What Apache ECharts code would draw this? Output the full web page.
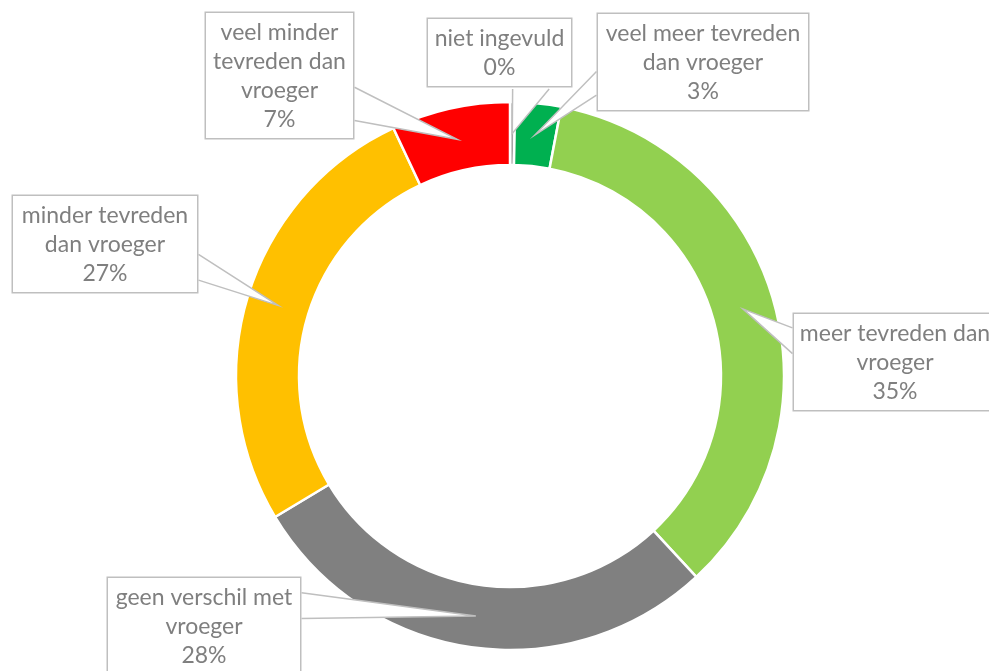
<!DOCTYPE html>
<html>
<head>
<meta charset="utf-8">
<script src="https://cdn.jsdelivr.net/npm/echarts@6/dist/echarts.min.js"></script>
<style>
    html, body { margin: 0; padding: 0; background: #fff; }
    #donut { width: 989px; height: 671px; }
</style>
</head>
<body>
<div id="donut"></div>
<script>
// categories, clockwise from 12 o'clock
var categories = ['niet ingevuld', 'veel meer tevreden dan vroeger', 'meer tevreden dan vroeger',
    'geen verschil met vroeger', 'minder tevreden dan vroeger', 'veel minder tevreden dan vroeger'];
// label text as it wraps in the callout boxes
var labelText = ['niet ingevuld', 'veel meer tevreden\ndan vroeger', 'meer tevreden dan\nvroeger',
    'geen verschil met\nvroeger', 'minder tevreden\ndan vroeger', 'veel minder\ntevreden dan\nvroeger'];
var shares = [0.3, 2.7, 35.1, 28.3, 26.6, 7.0];
var colors = ['#A5A5A5', '#00B050', '#92D050', '#808080', '#FFC000', '#FF0000'];

// callout boxes: centre x, top, width, side of the pointer and where its base sits on that side
var boxes = [
    {x: 499.5, y: 19, w: 143, side: 'bottom', f: [0.59, 0.84]},
    {x: 703, y: 14, w: 210, side: 'left', f: [0.58, 0.82]},
    {x: 895, y: 314, w: 202, side: 'left', f: [0.14, 0.40]},
    {x: 204, y: 578, w: 192, side: 'right', f: [0.15, 0.41]},
    {x: 105, y: 196, w: 184, side: 'right', f: [0.59, 0.85]},
    {x: 279.5, y: 13, w: 147, side: 'right', f: [0.58, 0.84]}
];

var cx = 510, cy = 376, rIn = 211, rOut = 274;

(function () {
    var myChart = echarts.init(document.getElementById('donut'));

    var ring = categories.map(function (c, i) {
        return {name: c, value: shares[i], itemStyle: {color: colors[i]}};
    });
    // same slices again, invisible, on top: they carry the callouts so the pointers lie over the ring
    var callouts = categories.map(function (c, i) {
        return {name: c, value: shares[i], label: {width: boxes[i].w}};
    });

    var option = {
        animation: false,
        series: [
            {
                type: 'pie',
                z: 2,
                center: [cx, cy],
                radius: [rIn, rOut],
                startAngle: 90,
                clockwise: true,
                silent: true,
                itemStyle: {
                    borderColor: '#ffffff',
                    borderWidth: 2.5
                },
                label: {show: false},
                labelLine: {show: false},
                data: ring
            },
            {
                type: 'pie',
                z: 3,
                center: [cx, cy],
                radius: [rIn, rOut],
                startAngle: 90,
                clockwise: true,
                silent: true,
                avoidLabelOverlap: false,
                minShowLabelAngle: 0,
                itemStyle: {
                    color: 'rgba(0,0,0,0)',
                    borderWidth: 0
                },
                label: {
                    show: true,
                    position: 'outside',
                    formatter: function (p) {
                        return labelText[p.dataIndex] + '\n' + Math.round(p.value) + '%';
                    },
                    fontFamily: 'Lato',
                    fontSize: 23,
                    lineHeight: 29,
                    color: '#7f7f7f',
                    align: 'center',
                    backgroundColor: '#ffffff',
                    borderColor: '#bfbfbf',
                    borderWidth: 1.5,
                    padding: [5, 0, 4, 0]
                },
                labelLine: {
                    show: true,
                    length: 10,
                    length2: 10,
                    lineStyle: {color: '#bfbfbf', width: 1.5}
                },
                labelLayout: function (params) {
                    var b = boxes[params.dataIndex];
                    var w = params.labelRect.width, h = params.labelRect.height;
                    var left = b.x - w / 2, top = b.y;
                    var out = {x: b.x, y: b.y, align: 'center', verticalAlign: 'top'};
                    var p = params.labelLinePoints;
                    if (p) {
                        // pointer tip sits in the middle of the ring, on the slice's mid angle
                        var k = (rIn + rOut) / 2 / rOut;
                        var tip = [cx + (p[0][0] - cx) * k, cy + (p[0][1] - cy) * k];
                        var a, c;
                        if (b.side === 'bottom') {
                            a = [left + w * b.f[0], top + h];
                            c = [left + w * b.f[1], top + h];
                        } else {
                            var ex = b.side === 'left' ? left : left + w;
                            a = [ex, top + h * b.f[0]];
                            c = [ex, top + h * b.f[1]];
                        }
                        out.labelLinePoints = [a, tip, c];
                    }
                    return out;
                },
                data: callouts
            }
        ]
    };
    myChart.setOption(option);

    // callout pointers are white-filled wedges
    var fillWedges = function () {
        myChart.getZr().storage.getDisplayList(true).forEach(function (el) {
            if (el.type === 'polyline' && el.style.fill !== '#ffffff') {
                el.setStyle('fill', '#ffffff');
            }
        });
    };
    fillWedges();
    myChart.on('finished', fillWedges);
    window.onresize = myChart.resize;
})();
</script>
</body>
</html>
